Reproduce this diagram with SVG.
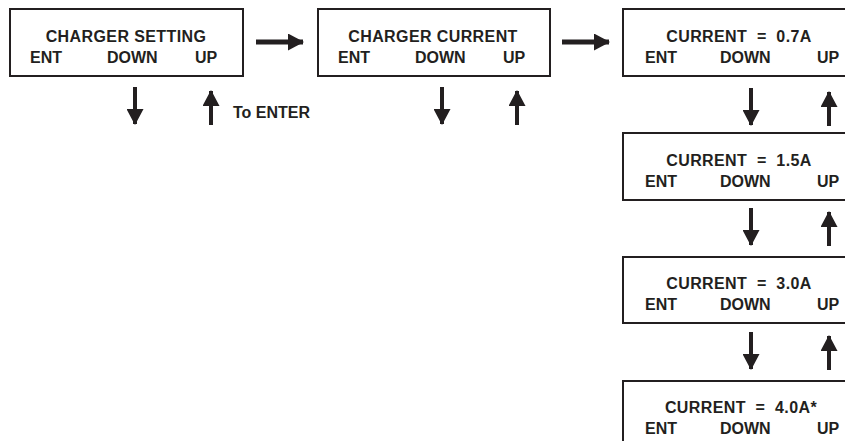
<svg xmlns="http://www.w3.org/2000/svg" width="845" height="441" viewBox="0 0 845 441">
<style>
.box{fill:#fff;stroke:#231f20;stroke-width:2}
.t{font-family:"Liberation Sans",Arial,sans-serif;font-weight:bold;font-size:16px;fill:#231f20}
.c{text-anchor:middle}
.ar{stroke:#231f20;fill:none;marker-end:url(#head)}
.h{stroke-width:5}
.v{stroke-width:4}
</style>
<defs>
<marker id="head" viewBox="0 0 16 17" refX="15" refY="8.5" markerWidth="16" markerHeight="17" markerUnits="userSpaceOnUse" orient="auto">
<path d="M0,0 L16,8.5 L0,17 Z" fill="#231f20"/>
</marker>
</defs>
<rect width="845" height="441" fill="#fff"/>
<g id="n1">
<rect class="box" x="10" y="9" width="233" height="67"/>
<text class="t c" x="126" y="42" letter-spacing="0.4">CHARGER SETTING</text>
<text class="t" x="30" y="63">ENT</text>
<text class="t" x="107" y="63">DOWN</text>
<text class="t" x="195" y="63">UP</text>
</g>
<g id="n2">
<rect class="box" x="318" y="9" width="232" height="67"/>
<text class="t c" x="433" y="42" letter-spacing="0.4">CHARGER CURRENT</text>
<text class="t" x="338" y="63">ENT</text>
<text class="t" x="415" y="63">DOWN</text>
<text class="t" x="503" y="63">UP</text>
</g>
<g id="n3">
<rect class="box" x="623" y="9" width="240" height="67"/>
<text class="t c" x="739" y="42" xml:space="preserve" letter-spacing="0.4">CURRENT  =  0.7A</text>
<text class="t" x="645" y="63">ENT</text>
<text class="t" x="720" y="63">DOWN</text>
<text class="t" x="817" y="63">UP</text>
</g>
<g id="n4">
<rect class="box" x="623" y="133" width="240" height="67"/>
<text class="t c" x="739" y="166" xml:space="preserve" letter-spacing="0.4">CURRENT  =  1.5A</text>
<text class="t" x="645" y="187">ENT</text>
<text class="t" x="720" y="187">DOWN</text>
<text class="t" x="817" y="187">UP</text>
</g>
<g id="n5">
<rect class="box" x="623" y="257" width="240" height="66"/>
<text class="t c" x="739" y="289" xml:space="preserve" letter-spacing="0.4">CURRENT  =  3.0A</text>
<text class="t" x="645" y="310">ENT</text>
<text class="t" x="720" y="310">DOWN</text>
<text class="t" x="817" y="310">UP</text>
</g>
<g id="n6">
<rect class="box" x="623" y="381" width="240" height="70"/>
<text class="t c" x="741" y="413" xml:space="preserve" letter-spacing="0.4">CURRENT  =  4.0A*</text>
<text class="t" x="645" y="434">ENT</text>
<text class="t" x="720" y="434">DOWN</text>
<text class="t" x="817" y="434">UP</text>
</g>
<g id="note">
<text class="t" x="233" y="118">To ENTER</text>
</g>
<g id="connectors">
<line class="ar h" x1="256" y1="42" x2="303" y2="42"/>
<line class="ar h" x1="562" y1="42" x2="609" y2="42"/>
<line class="ar v" x1="135" y1="87" x2="135" y2="124"/>
<line class="ar v" x1="211" y1="125" x2="211" y2="91"/>
<line class="ar v" x1="442" y1="87" x2="442" y2="124"/>
<line class="ar v" x1="517" y1="125" x2="517" y2="91"/>
<line class="ar v" x1="751" y1="88" x2="751" y2="125"/>
<line class="ar v" x1="829" y1="126" x2="829" y2="92"/>
<line class="ar v" x1="751" y1="208" x2="751" y2="245"/>
<line class="ar v" x1="829" y1="246" x2="829" y2="212"/>
<line class="ar v" x1="751" y1="332" x2="751" y2="369"/>
<line class="ar v" x1="829" y1="370" x2="829" y2="336"/>
</g>
</svg>
